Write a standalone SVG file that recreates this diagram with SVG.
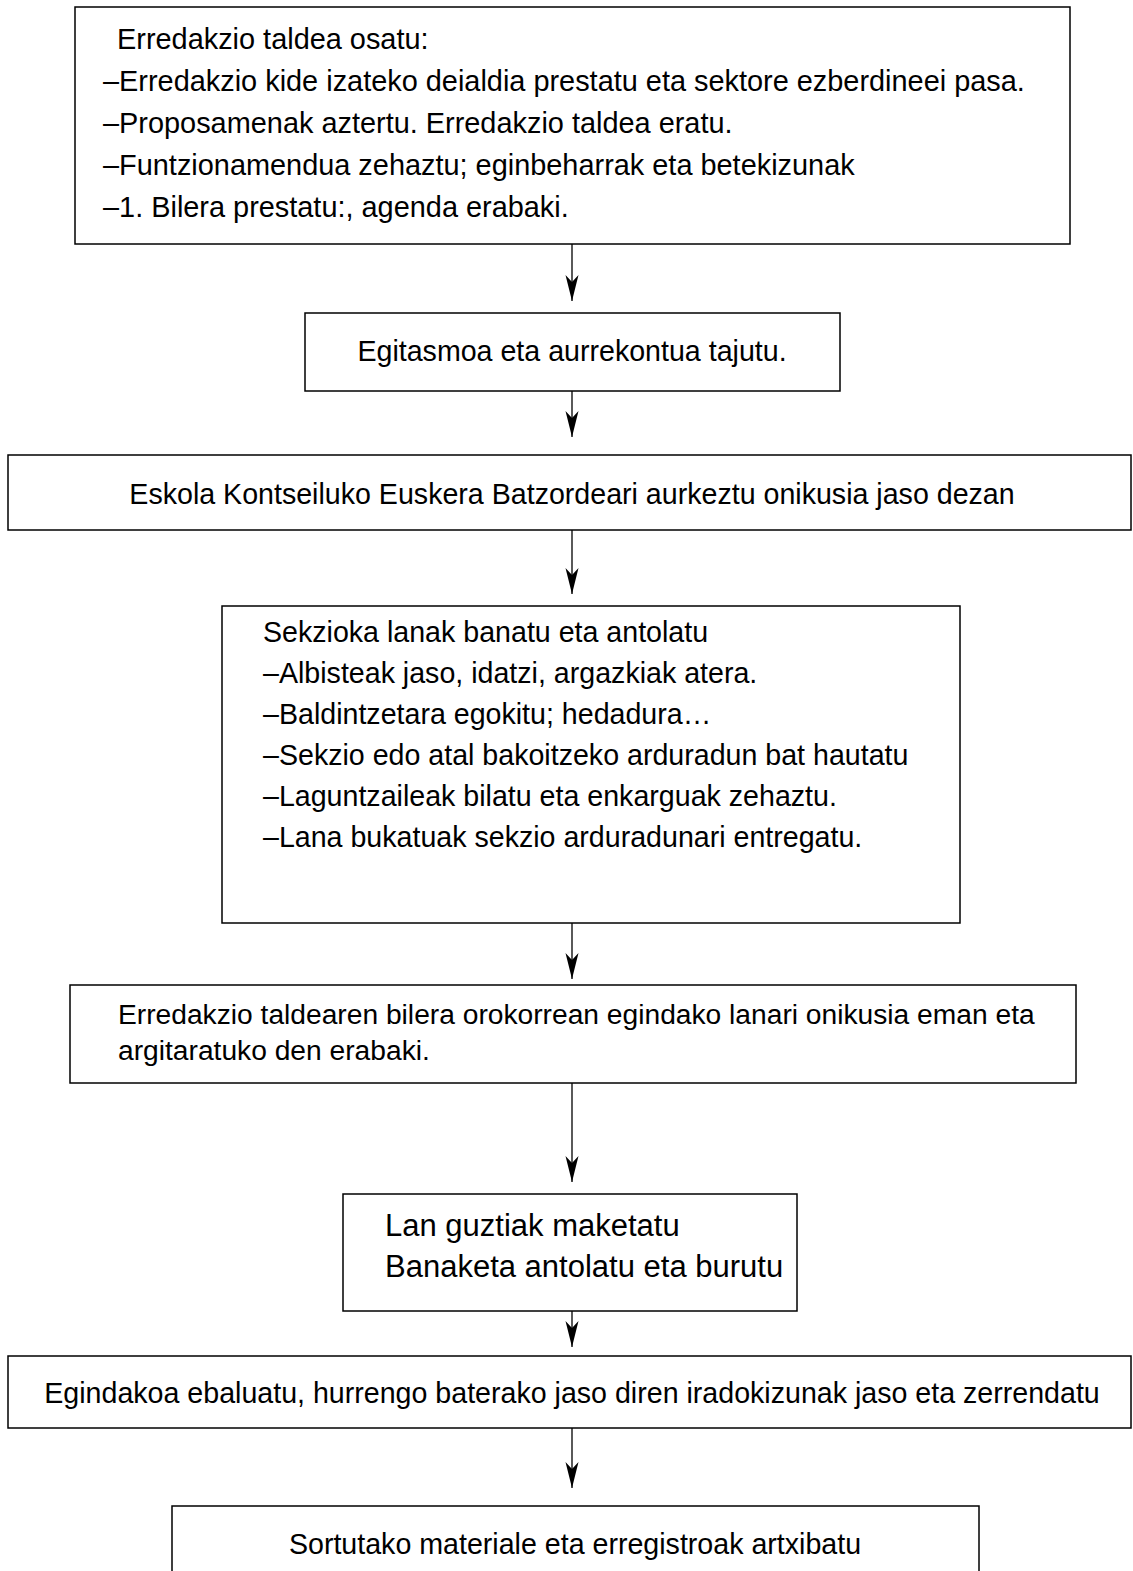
<svg xmlns="http://www.w3.org/2000/svg" width="1133" height="1571" viewBox="0 0 1133 1571">
<style>
rect.box{fill:#fff;stroke:#000;stroke-width:1.5}
text{font-family:"Liberation Sans",Arial,sans-serif;font-size:28.6px;fill:#000}
.c{text-anchor:middle}
#n1 text{font-size:28.9px}
#n5 text{font-size:28.2px}
#n6 text{font-size:31px}
.conn line{stroke:#000;stroke-width:1.3}
</style>
<defs>
<marker id="ah" markerUnits="userSpaceOnUse" markerWidth="30" markerHeight="16" viewBox="-27 -8 30 16" refX="0" refY="0" orient="auto">
<path d="M0,0 L-26,-6.5 L-19,0 L-26,6.5 Z" fill="#000"/>
</marker>
</defs>
<rect width="1133" height="1571" fill="#fff"/>
<g class="conn">
<line x1="572" y1="244" x2="572" y2="301" marker-end="url(#ah)"/>
<line x1="572" y1="391" x2="572" y2="437" marker-end="url(#ah)"/>
<line x1="572" y1="530" x2="572" y2="594" marker-end="url(#ah)"/>
<line x1="572" y1="923" x2="572" y2="979" marker-end="url(#ah)"/>
<line x1="572" y1="1083" x2="572" y2="1182" marker-end="url(#ah)"/>
<line x1="572" y1="1311" x2="572" y2="1347" marker-end="url(#ah)"/>
<line x1="572" y1="1428" x2="572" y2="1488" marker-end="url(#ah)"/>
</g>
<g id="n1">
<rect class="box" x="75" y="7" width="995" height="237"/>
<text x="117" y="49">Erredakzio taldea osatu:</text>
<text x="103" y="91">–Erredakzio kide izateko deialdia prestatu eta sektore ezberdineei pasa.</text>
<text x="103" y="133">–Proposamenak aztertu. Erredakzio taldea eratu.</text>
<text x="103" y="175">–Funtzionamendua zehaztu; eginbeharrak eta betekizunak</text>
<text x="103" y="217">–1. Bilera prestatu:, agenda erabaki.</text>
</g>
<g id="n2">
<rect class="box" x="305" y="313" width="535" height="78"/>
<text class="c" x="572" y="361">Egitasmoa eta aurrekontua tajutu.</text>
</g>
<g id="n3">
<rect class="box" x="8" y="455" width="1123" height="75"/>
<text class="c" x="572" y="504">Eskola Kontseiluko Euskera Batzordeari aurkeztu onikusia jaso dezan</text>
</g>
<g id="n4">
<rect class="box" x="222" y="606" width="738" height="317"/>
<text x="263" y="642">Sekzioka lanak banatu eta antolatu</text>
<text x="263" y="683">–Albisteak jaso, idatzi, argazkiak atera.</text>
<text x="263" y="724">–Baldintzetara egokitu; hedadura…</text>
<text x="263" y="765">–Sekzio edo atal bakoitzeko arduradun bat hautatu</text>
<text x="263" y="806">–Laguntzaileak bilatu eta enkarguak zehaztu.</text>
<text x="263" y="847">–Lana bukatuak sekzio arduradunari entregatu.</text>
</g>
<g id="n5">
<rect class="box" x="70" y="985" width="1006" height="98"/>
<text x="118" y="1024">Erredakzio taldearen bilera orokorrean egindako lanari onikusia eman eta</text>
<text x="118" y="1060">argitaratuko den erabaki.</text>
</g>
<g id="n6">
<rect class="box" x="343" y="1194" width="454" height="117"/>
<text x="385" y="1236">Lan guztiak maketatu</text>
<text x="385" y="1277">Banaketa antolatu eta burutu</text>
</g>
<g id="n7">
<rect class="box" x="8" y="1356" width="1123" height="72"/>
<text class="c" x="572" y="1403">Egindakoa ebaluatu, hurrengo baterako jaso diren iradokizunak jaso eta zerrendatu</text>
</g>
<g id="n8">
<rect class="box" x="172" y="1506" width="807" height="80"/>
<text class="c" x="575" y="1554">Sortutako materiale eta erregistroak artxibatu</text>
</g>
</svg>
